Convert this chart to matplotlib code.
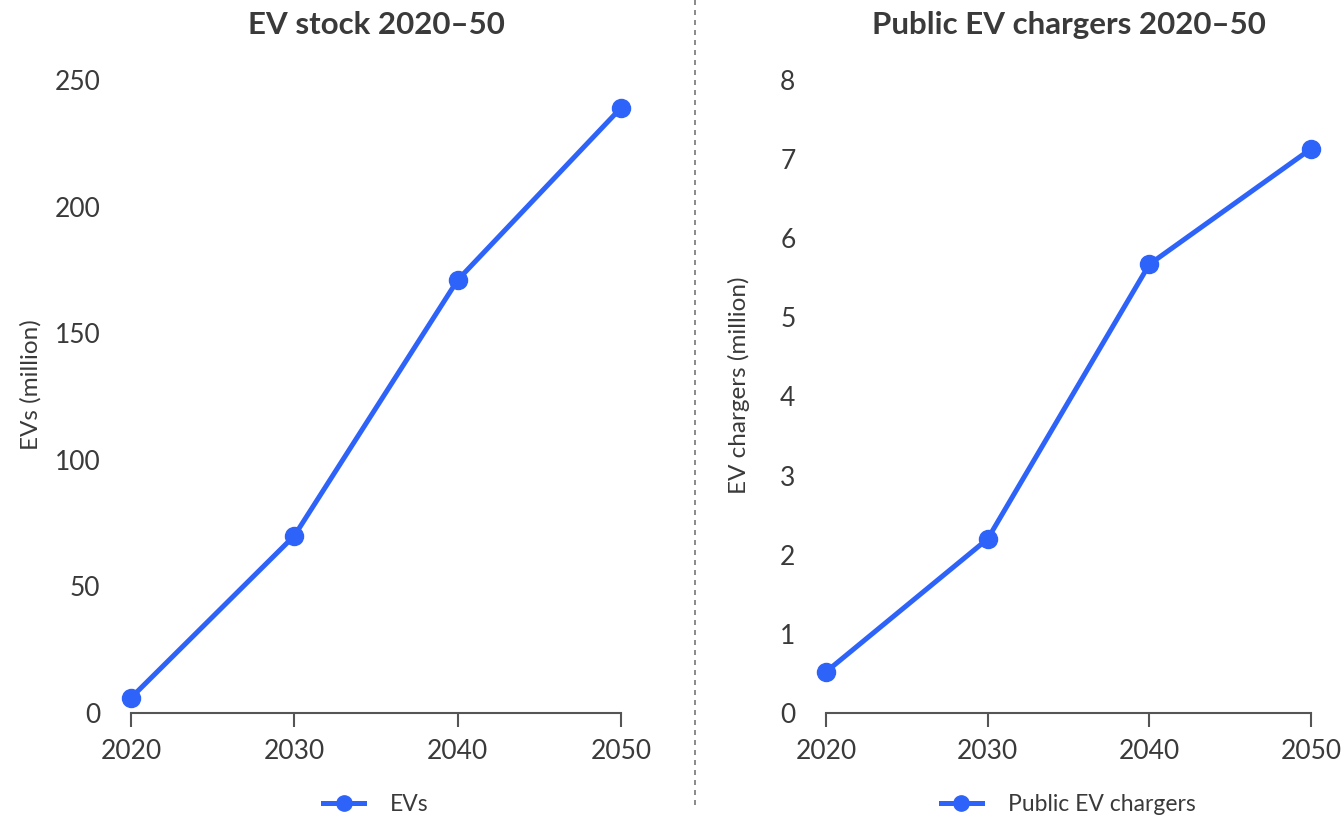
import matplotlib
matplotlib.use("Agg")
import matplotlib.pyplot as plt
from matplotlib.lines import Line2D

plt.rcParams['font.family'] = ['Lato', 'DejaVu Sans']

years = [2020, 2030, 2040, 2050]
ev_stock = [6, 70, 171, 239]
ev_chargers = [0.52, 2.2, 5.67, 7.13]

left_ticks = [0, 50, 100, 150, 200, 250]
right_ticks = [0, 1, 2, 3, 4, 5, 6, 7, 8]

BLUE = '#2E63FA'
TEXT = '#3a3a3a'
AXIS = '#555555'

W, H = 1341, 816
fig = plt.figure(figsize=(W / 100, H / 100), dpi=100)


def px_axes(x0, y0, x1, y1):
    return fig.add_axes([x0 / W, 1 - y1 / H, (x1 - x0) / W, (y1 - y0) / H])


def style(ax, yticks, ylabel, ylabel_x, title, label, values):
    ax.plot(years, values, color=BLUE, lw=3.6, marker='o', ms=13,
            solid_capstyle='round', clip_on=False, zorder=3)
    ax.set_xlim(2020, 2050)
    ax.set_ylim(yticks[0], yticks[-1])
    ax.set_xticks(years)
    ax.set_yticks(yticks)
    for s in ('top', 'right', 'left'):
        ax.spines[s].set_visible(False)
    ax.spines['bottom'].set_color(AXIS)
    ax.spines['bottom'].set_linewidth(1.5)
    ax.tick_params(axis='x', length=10, width=1.5, color=AXIS, pad=9,
                   labelsize=19, labelcolor=TEXT)
    ax.tick_params(axis='y', length=0, pad=22, labelsize=19, labelcolor=TEXT)
    ax.set_ylabel(ylabel, fontsize=17.5, color=TEXT)
    ax.yaxis.set_label_coords(ylabel_x, 0.518)
    ax.set_title(title, fontsize=22.5, fontweight='bold', color=TEXT, pad=33)
    handle = Line2D([], [], color=BLUE, lw=3.6, marker='o', ms=11)
    ax.legend([handle], [label], loc='upper center', bbox_to_anchor=(0.5, -0.095),
              frameon=False, fontsize=16.5, labelcolor=TEXT, handlelength=1.75,
              handletextpad=1.15)


ax1 = px_axes(131, 80, 621, 713)
style(ax1, left_ticks, 'EVs (million)', -0.182, 'EV stock 2020–50', 'EVs', ev_stock)

ax2 = px_axes(826, 80, 1311, 713)
style(ax2, right_ticks, 'EV chargers (million)', -0.157,
      'Public EV chargers 2020–50', 'Public EV chargers', ev_chargers)

# dashed divider between the two panels
fig.add_artist(Line2D([695 / W, 695 / W], [1 - 805 / H, 1.0], color='#777777',
                      lw=1.2, ls=(0, (3, 3))))

fig.savefig('out.png', dpi=100, facecolor='white')
